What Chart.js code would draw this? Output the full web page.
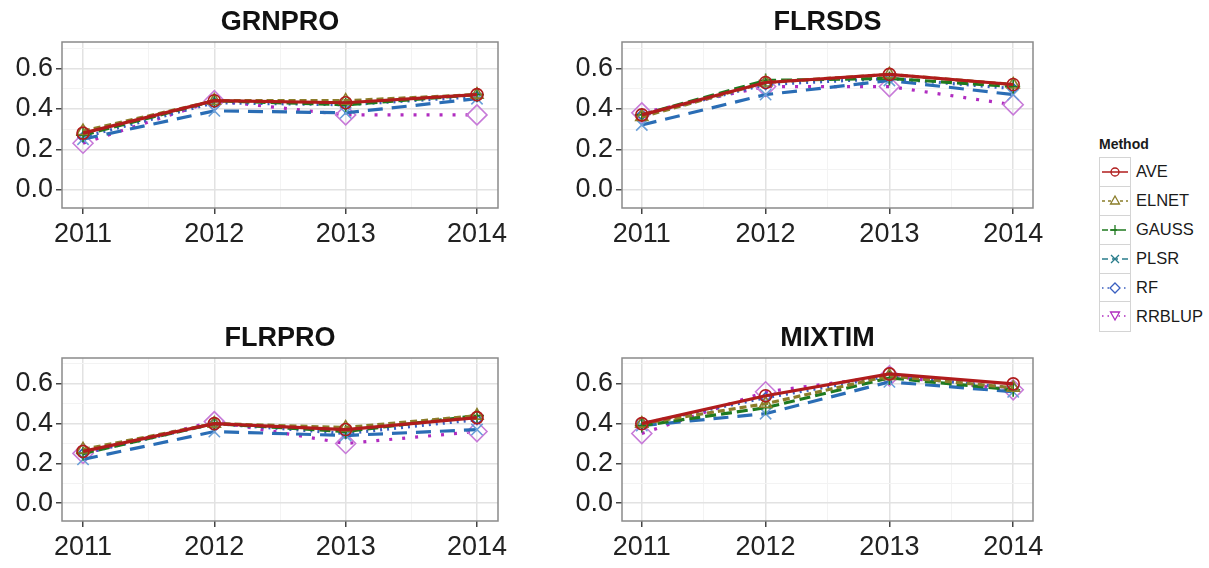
<!DOCTYPE html>
<html>
<head>
<meta charset="utf-8">
<script src="https://cdn.jsdelivr.net/npm/chart.js@4.4.1/dist/chart.umd.min.js"></script>
<style>
  body { margin: 0; background: #fff; width: 1209px; height: 568px; overflow: hidden; position: relative;
         font-family: "Liberation Sans", Arial, sans-serif; }
  .panel { position: absolute; }
  #legend { position: absolute; left: 1099px; top: 136px; color: #1a1a1a; }
  #legend .ttl { font-weight: bold; font-size: 14px; margin-bottom: 5px; }
  #legend .row { display: flex; align-items: center; height: 29px; }
  #legend svg { display: block; border: 1px solid #d4d4d4; border-bottom: none; background: #fff; }
  #legend .row:last-child svg { border-bottom: 1px solid #d4d4d4; }
  #legend .lab { font-size: 16.5px; margin-left: 5px; }
</style>
</head>
<body>
<div class="panel" style="left:0;top:0"><canvas id="c1" width="520" height="260"></canvas></div>
<div class="panel" style="left:560px;top:0"><canvas id="c2" width="500" height="260"></canvas></div>
<div class="panel" style="left:0;top:316px"><canvas id="c3" width="520" height="257"></canvas></div>
<div class="panel" style="left:560px;top:316px"><canvas id="c4" width="500" height="257"></canvas></div>
<div id="legend"><div class="ttl">Method</div></div>

<script>
// years on the x axis, methods in legend order
const years   = [2011, 2012, 2013, 2014];
const methods = ['AVE', 'ELNET', 'GAUSS', 'PLSR', 'RF', 'RRBLUP'];

// one row per method (AVE, ELNET, GAUSS, PLSR, RF, RRBLUP)
const GRNPRO = [
  [0.28, 0.44, 0.43, 0.47],
  [0.29, 0.44, 0.44, 0.47],
  [0.27, 0.44, 0.42, 0.47],
  [0.25, 0.39, 0.38, 0.45],
  [0.26, 0.43, 0.42, 0.46],
  [0.23, 0.44, 0.37, 0.37],
];
const FLRSDS = [
  [0.37, 0.53, 0.57, 0.52],
  [0.36, 0.53, 0.57, 0.52],
  [0.37, 0.54, 0.55, 0.51],
  [0.32, 0.47, 0.54, 0.47],
  [0.37, 0.52, 0.55, 0.50],
  [0.38, 0.51, 0.51, 0.42],
];
const FLRPRO = [
  [0.26, 0.40, 0.37, 0.43],
  [0.27, 0.40, 0.38, 0.44],
  [0.25, 0.40, 0.36, 0.44],
  [0.22, 0.36, 0.34, 0.37],
  [0.25, 0.40, 0.35, 0.42],
  [0.25, 0.41, 0.30, 0.36],
];
const MIXTIM = [
  [0.40, 0.54, 0.65, 0.60],
  [0.40, 0.50, 0.64, 0.58],
  [0.39, 0.48, 0.63, 0.57],
  [0.39, 0.45, 0.61, 0.56],
  [0.40, 0.53, 0.64, 0.58],
  [0.35, 0.56, 0.64, 0.57],
];

const FONT = '"Liberation Sans", Arial, sans-serif';

const styles = [
  { borderColor: '#b01c1c', borderDash: [],      pointStyle: 'circle',   pointRadius: 6, pointBorderColor: '#b01c1c' },
  { borderColor: '#8b7d2a', borderDash: [7, 4],  pointStyle: 'triangle', pointRadius: 7, pointBorderColor: '#8b7d2a' },
  { borderColor: '#1f7a1f', borderDash: [11, 5], pointStyle: 'cross',    pointRadius: 7, pointBorderColor: '#1f7a1f' },
  { borderColor: '#2a6db5', borderDash: [15, 9], pointStyle: 'crossRot', pointRadius: 8, pointBorderColor: '#6a9fd8' },
  { borderColor: '#3a5fc0', borderDash: [2, 5],  pointStyle: 'rectRot',  pointRadius: 5, pointBorderColor: '#3a5fc0' },
  { borderColor: '#b02cc0', borderDash: [3, 10], pointStyle: 'rectRot',  pointRadius: 10, pointBorderColor: '#c77ad8' },
];

const isMajorY = v => Math.abs(Math.round(v * 10)) % 2 === 0;
const isMajorX = v => Number.isInteger(v);

const framePlugin = {
  id: 'frame',
  afterDraw(chart) {
    const { ctx, chartArea: a } = chart;
    ctx.save();
    ctx.strokeStyle = '#8a8a8a';
    ctx.lineWidth = 1.5;
    ctx.strokeRect(a.left, a.top, a.right - a.left, a.bottom - a.top);
    ctx.restore();
  },
};

function makePanel(id, title, values, rightPad) {
  new Chart(document.getElementById(id), {
    type: 'line',
    data: {
      datasets: methods.map((m, i) => ({
        label: m,
        data: years.map((yr, j) => ({ x: yr, y: values[i][j] })),
        borderWidth: 3.2,
        pointBorderWidth: 1.6,
        pointBackgroundColor: 'rgba(0,0,0,0)',
        tension: 0,
        fill: false,
        ...styles[i],
      })),
    },
    options: {
      responsive: false,
      animation: false,
      devicePixelRatio: 1,
      layout: { padding: { left: 0, right: rightPad, top: 0, bottom: 0 } },
      plugins: {
        legend: { display: false },
        tooltip: { enabled: false },
        title: {
          display: true, text: title, fullSize: false, color: '#111',
          font: { family: FONT, size: 27, weight: 'bold', lineHeight: 1.2 },
          padding: { top: 6.5, bottom: 3.1 },
        },
      },
      scales: {
        x: {
          type: 'linear', min: 2010.84, max: 2014.16,
          afterFit: s => { s.height = 52; },
          border: { display: false },
          grid: {
            color: c => isMajorX(c.tick.value) ? '#e2e2e2' : '#f3f3f3',
            lineWidth: c => isMajorX(c.tick.value) ? 1.5 : 1,
            tickLength: 6,
            tickColor: c => isMajorX(c.tick.value) ? '#444' : 'rgba(0,0,0,0)',
          },
          ticks: {
            stepSize: 0.5, includeBounds: false, autoSkip: false, maxRotation: 0,
            callback: v => isMajorX(v) ? String(v) : '',
            color: '#222', padding: 4, font: { family: FONT, size: 27 },
          },
        },
        y: {
          min: -0.09, max: 0.73,
          afterFit: s => { s.width = 62; },
          border: { display: false },
          grid: {
            color: c => isMajorY(c.tick.value) ? '#e2e2e2' : '#f3f3f3',
            lineWidth: c => isMajorY(c.tick.value) ? 1.5 : 1,
            tickLength: 6,
            tickColor: c => isMajorY(c.tick.value) ? '#444' : 'rgba(0,0,0,0)',
          },
          ticks: {
            stepSize: 0.1, includeBounds: false, autoSkip: false,
            callback: v => isMajorY(v) ? v.toFixed(1) : '',
            color: '#222', padding: 3, font: { family: FONT, size: 27 },
          },
        },
      },
    },
    plugins: [framePlugin],
  });
}

makePanel('c1', 'GRNPRO', GRNPRO, 22);
makePanel('c2', 'FLRSDS', FLRSDS, 27);
makePanel('c3', 'FLRPRO', FLRPRO, 22);
makePanel('c4', 'MIXTIM', MIXTIM, 27);

// legend keys (as in the reference legend)
const keys = [
  { color: '#b01c1c', dash: '',    mark: '<circle cx="15" cy="14" r="4" fill="none" stroke="#b01c1c" stroke-width="1.3"/>' },
  { color: '#8b7d2a', dash: '3 3', mark: '<polygon points="15,9 19.5,17 10.5,17" fill="#fff" stroke="#8b7d2a" stroke-width="1.3"/>' },
  { color: '#1f7a1f', dash: '6 3', mark: '<path d="M15 9V19M10 14H20" stroke="#1f7a1f" stroke-width="1.3"/>' },
  { color: '#2a7d8c', dash: '6 4', mark: '<path d="M11 10L19 18M19 10L11 18" stroke="#2a7d8c" stroke-width="1.3"/>' },
  { color: '#3a5fc0', dash: '1.5 4', mark: '<polygon points="15,9 20,14 15,19 10,14" fill="#fff" stroke="#3a5fc0" stroke-width="1.3"/>' },
  { color: '#b02cc0', dash: '1.5 4', mark: '<polygon points="10.5,10 19.5,10 15,18" fill="#fff" stroke="#b02cc0" stroke-width="1.3"/>' },
];
const leg = document.getElementById('legend');
methods.forEach((m, i) => {
  const k = keys[i];
  const row = document.createElement('div');
  row.className = 'row';
  row.innerHTML =
    `<svg width="30" height="29"><line x1="2" y1="14" x2="28" y2="14" stroke="${k.color}" stroke-width="1.5" stroke-dasharray="${k.dash}"/>${k.mark}</svg>` +
    `<span class="lab">${m}</span>`;
  leg.appendChild(row);
});
</script>
</body>
</html>
